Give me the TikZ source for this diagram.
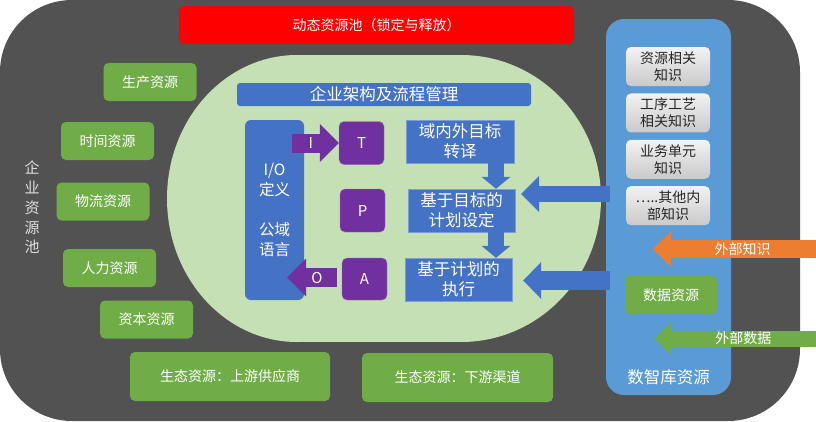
\documentclass[tikz,border=0pt]{standalone}
\usepackage{fontspec}
\setmainfont{Noto Sans CJK SC}
\usetikzlibrary{arrows.meta,positioning}
\definecolor{poolgray}{HTML}{525252}
\definecolor{poolred}{HTML}{FF0000}
\definecolor{procgreen}{HTML}{C5E0B4}
\definecolor{resgreen}{HTML}{70AD47}
\definecolor{procblue}{HTML}{4472C4}
\definecolor{kbblue}{HTML}{5B9BD5}
\definecolor{tpapurple}{HTML}{7030A0}
\definecolor{extorange}{HTML}{ED7D31}
\tikzset{resource/.style={rectangle,rounded corners=5pt,fill=resgreen,text=white,minimum width=93pt,minimum height=38pt,inner sep=0pt,font=\fontsize{14}{17}\selectfont}}
\tikzset{procbox/.style={rectangle,draw=procblue!70!white,fill=procblue,text=white,minimum width=108pt,minimum height=43pt,inner sep=0pt,align=center,font=\fontsize{16.5}{20}\selectfont}}
\tikzset{tpa/.style={rectangle,rounded corners=5pt,draw=tpapurple!70!white,fill=tpapurple,text=white,minimum width=45pt,minimum height=43pt,inner sep=0pt,font=\fontsize{15}{18}\selectfont}}
\tikzset{knowledge/.style={rectangle,rounded corners=5pt,top color=gray!10,bottom color=gray!42,text=black!85,minimum width=84pt,minimum height=39pt,inner sep=0pt,align=center,font=\fontsize{14}{17}\selectfont}}
\tikzset{fatArrow/.style n args={3}{line width=#1,-{Triangle[width=#2,length=#3,line width=0pt]}}}
\tikzset{onArrow/.style={text=white,inner sep=0pt,font=\fontsize{14}{17}\selectfont}}

\begin{document}
\begin{tikzpicture}[x=1pt,y=-1pt]
\useasboundingbox (0,0) rectangle (816,421);
\fill[poolgray,rounded corners=72pt] (0,0) rectangle (800,421);
\fill[procgreen] (297,198.5) ellipse [x radius=130, y radius=143.5];
\fill[procgreen] (461,198.5) ellipse [x radius=140, y radius=143.5];
\fill[procgreen] (297,55) rectangle (461,342);

\node (dynpool) at (376.5,25) [rectangle,rounded corners=6pt,fill=poolred,text=white,minimum width=395pt,minimum height=38pt,inner sep=0pt,font=\fontsize{14}{17}\selectfont] {动态资源池（锁定与释放）};
\node (poolname) at (32,207.5) [text=gray!25,align=center,inner sep=0pt,font=\fontsize{15}{19.75}\selectfont] {企\\业\\资\\源\\池};

\node (prod) at (150,82) [resource] {生产资源};
\node (time) at (107.5,141) [resource] {时间资源};
\node (logi) at (103,201.5) [resource] {物流资源};
\node (human) at (109.5,268) [resource] {人力资源};
\node (capital) at (146.5,319.5) [resource] {资本资源};
\node (upstream) at (230,376.5) [resource,minimum width=200pt,minimum height=49pt] {生态资源：上游供应商};
\node (downstream) at (457.5,377.5) [resource,minimum width=191pt,minimum height=49pt] {生态资源：下游渠道};

\node (arch) at (384,94.5) [rectangle,rounded corners=3pt,fill=procblue,text=white,minimum width=294pt,minimum height=23pt,inner sep=0pt,font=\fontsize{16.5}{20}\selectfont] {企业架构及流程管理};
\node (io) at (274.5,210) [rectangle,rounded corners=6pt,fill=procblue,text=white,minimum width=59pt,minimum height=180pt,inner sep=0pt,align=center,font=\fontsize{15.5}{20}\selectfont] {I/O\\定义\\[20pt]公域\\语言};
\node (T) at (361.5,143) [tpa] {T};
\node (P) at (362.5,210.5) [tpa] {P};
\node (A) at (364.5,279) [tpa,minimum height=42pt] {A};
\node (goal) at (460,141.5) [procbox] {域内外目标\\转译};
\node (plan) at (461.5,210.5) [procbox,minimum width=107pt] {基于目标的\\计划设定};
\node (exec) at (458.5,279.5) [procbox,minimum width=107pt] {基于计划的\\执行};

\node (panel) at (668.5,207) [rectangle,rounded corners=18pt,fill=kbblue,minimum width=125pt,minimum height=376pt,inner sep=0pt] {};
\node (panelname) [above=10pt of panel.south,text=white,inner sep=0pt,font=\fontsize{16.5}{20}\selectfont] {数智库资源};
\begin{scope}[node distance=7pt]
	\node (resknow) at (668,66.5) [knowledge] {资源相关\\知识};
	\node (craftknow) [knowledge, below =of resknow] {工序工艺\\相关知识};
	\node (unitknow) [knowledge, below =of craftknow] {业务单元\\知识};
	\node (otherknow) [knowledge, below =of unitknow] {…..其他内\\部知识};
\end{scope}
\node (data) at (671,295) [resource,minimum width=92pt] {数据资源};

\coordinate (knowin) at (816,249);
\coordinate (datain) at (816,338.5);

\draw[fatArrow={19pt}{38pt}{19pt},tpapurple] ([xshift=-12pt]io.east |- T.west) -- (T.west) node[onArrow,pos=0.4,font=\fontsize{15}{18}\selectfont] {I};
\draw[fatArrow={19pt}{38pt}{19pt},tpapurple] ([xshift=-5pt,yshift=1.5pt]A.west) -- ([xshift=-17pt,yshift=1.5pt]io.east |- A.west) node[onArrow,pos=0.4,font=\fontsize{15}{18}\selectfont] {O};
\draw[fatArrow={16pt}{29pt}{12pt},procblue] ([xshift=36pt]goal.south) -- ([xshift=36pt]goal.south |- plan.north);
\draw[fatArrow={16pt}{29pt}{12pt},procblue] ([xshift=34.5pt]plan.south) -- ([xshift=34.5pt]plan.south |- exec.north);
\draw[fatArrow={16pt}{36pt}{18pt},procblue] ([xshift=4pt,yshift=16.5pt]panel.west |- plan.east) -- ([xshift=6pt,yshift=16.5pt]plan.east);
\draw[fatArrow={19pt}{37pt}{18pt},procblue] ([xshift=4pt,yshift=-1pt]panel.west |- exec.east) -- ([xshift=11pt,yshift=-1pt]exec.east);
\draw[fatArrow={18pt}{35pt}{18pt},extorange] (knowin) -- ([xshift=47pt]panel.west |- knowin) node[onArrow,pos=0.45] {外部知识};
\draw[fatArrow={16pt}{34pt}{17pt},resgreen] (datain) -- ([xshift=49pt]panel.west |- datain) node[onArrow,pos=0.45] {外部数据};
\end{tikzpicture}
\end{document}
